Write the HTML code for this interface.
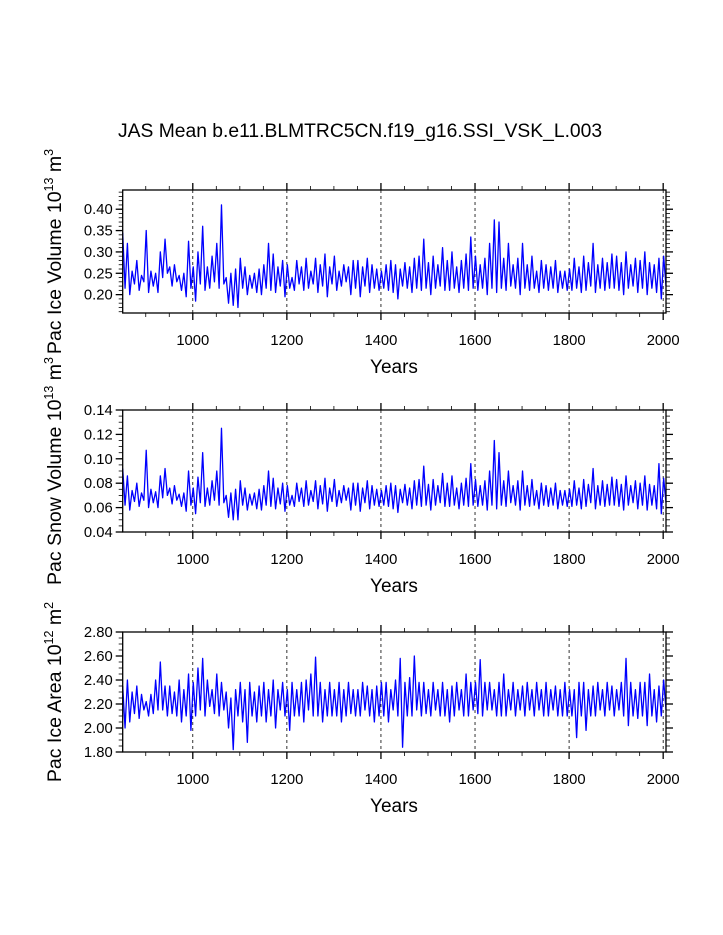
<!DOCTYPE html>
<html><head><meta charset="utf-8"><style>
html,body{margin:0;padding:0;background:#fff;}
svg{display:block;font-family:"Liberation Sans",Arial,sans-serif;}
</style></head><body>
<svg id="chart" width="723" height="935" viewBox="0 0 723 935" xmlns="http://www.w3.org/2000/svg">
<text x="118" y="137" font-size="19.3">JAS Mean b.e11.BLMTRC5CN.f19_g16.SSI_VSK_L.003</text>
</svg>
<script>
const startYear = 851;
const yearStep = 5;
const yearTicks = [1000, 1200, 1400, 1600, 1800, 2000];
const iceVolume = [345,215,320,200,255,225,280,210,245,230,350,205,255,220,250,205,300,240,330,250,265,220,270,230,245,210,250,195,325,215,265,185,300,225,360,210,265,215,290,230,320,215,410,225,240,180,250,175,260,170,285,215,265,200,245,215,250,205,260,200,270,215,320,210,295,205,265,220,280,195,270,215,240,210,280,225,265,210,285,215,255,225,285,205,270,220,295,195,265,225,290,210,255,220,270,230,265,200,280,215,280,195,265,220,285,205,270,215,260,210,255,215,270,210,280,205,270,190,260,220,275,215,265,205,285,215,290,210,330,215,275,200,290,215,270,220,310,210,280,210,300,215,265,205,280,215,295,210,335,215,290,210,270,215,285,200,320,215,375,205,370,215,285,210,320,220,270,215,285,200,320,215,270,210,290,215,255,205,280,215,270,210,265,215,280,205,255,215,255,210,260,210,285,215,265,205,290,210,275,220,320,205,270,215,285,210,275,215,295,215,290,210,275,200,300,215,270,220,285,205,280,215,300,200,275,215,270,205,285,190,290,220];
const snowVolume = [92,62,86,58,74,65,80,61,72,66,107,60,75,64,73,60,86,68,92,70,76,63,78,66,71,61,72,57,90,62,76,55,85,64,105,61,76,62,82,66,90,62,125,64,70,52,72,50,75,50,82,62,76,58,71,62,72,59,75,58,78,62,90,61,84,59,76,63,80,57,78,62,70,61,80,65,76,61,82,62,74,65,82,59,78,63,84,57,76,65,83,61,74,64,78,66,76,58,80,62,80,57,76,64,82,59,78,62,75,61,74,62,78,61,80,59,78,56,75,64,79,62,76,59,82,62,83,61,94,62,79,58,83,62,78,64,88,61,80,61,86,62,76,59,80,62,84,61,96,62,83,61,78,62,82,58,90,62,115,59,105,62,82,61,90,64,78,62,82,58,90,62,78,61,83,62,74,59,80,62,78,61,76,62,80,59,74,62,74,61,75,61,82,62,76,59,83,61,79,64,92,59,78,62,82,61,79,62,85,62,83,61,79,58,86,62,78,64,82,59,80,62,86,58,79,62,78,59,96,55,84,64];
const iceArea = [235,200,240,205,230,212,235,208,228,215,222,210,228,212,240,215,255,215,235,210,235,212,230,210,240,205,232,210,245,198,238,210,250,215,258,210,240,218,232,212,245,210,238,215,230,200,225,182,232,210,238,205,232,188,238,210,230,205,235,210,238,205,232,210,240,200,232,215,238,210,232,198,238,210,232,210,238,205,240,215,245,210,259,210,238,205,232,210,238,210,232,210,238,205,232,210,238,212,232,210,232,210,238,215,235,210,232,205,235,210,238,210,238,205,232,215,240,210,258,184,238,210,242,210,260,215,238,210,238,212,232,210,238,215,232,210,238,210,232,205,235,210,238,215,232,210,245,210,238,215,238,212,257,210,238,215,238,215,232,210,238,210,245,210,232,215,238,210,232,215,235,210,238,215,232,210,238,215,232,210,238,210,232,215,235,210,232,210,238,210,232,210,232,192,238,210,238,198,232,210,235,210,238,215,232,210,238,215,235,210,232,215,238,210,258,202,238,210,232,208,238,210,238,202,245,210,232,205,235,210,240,215];
const iceVolTicks = [0.20, 0.25, 0.30, 0.35, 0.40];
const snowTicks = [0.04, 0.06, 0.08, 0.10, 0.12, 0.14];
const areaTicks = [1.80, 2.00, 2.20, 2.40, 2.60, 2.80];

const NS = "http://www.w3.org/2000/svg";
const svg = document.getElementById('chart');
function mk(tag, attrs, parent) {
  const e = document.createElementNS(NS, tag);
  for (const k in attrs) e.setAttribute(k, attrs[k]);
  (parent || svg).appendChild(e);
  return e;
}
const X0 = 122.7, X1 = 666, YR0 = 851, YR1 = 2006;
const xs = y => X0 + (y - YR0) / (YR1 - YR0) * (X1 - X0);

function panel(cfg) {
  const g = mk('g', {});
  
  
  const ys = v => cfg.top + (cfg.ymax - v) / (cfg.ymax - cfg.ymin) * (cfg.bot - cfg.top);
  yearTicks.forEach(t => {
    const l = mk('line', {x1: xs(t), x2: xs(t), y1: cfg.top, y2: cfg.bot, stroke: '#000', 'stroke-width': 0.8, 'stroke-dasharray': '3,3'}, g);
    
    
  });
  let d = '';
  cfg.data.forEach((v, i) => {
    const yr = startYear + i * yearStep;
    d += (i ? 'L' : 'M') + xs(yr).toFixed(2) + ',' + ys(v * cfg.scale).toFixed(2);
  });
  const p = mk('path', {d: d, fill: 'none', stroke: '#0000ff', 'stroke-width': 1.3, 'stroke-linejoin': 'round'}, g);
  
  
  const r = mk('rect', {x: X0, y: cfg.top, width: X1 - X0, height: cfg.bot - cfg.top, fill: 'none', stroke: '#000', 'stroke-width': 1.3}, g);
  
  
  for (let t = 900; t <= 2000; t += 50) {
    const major = t % 200 === 0;
    const len = major ? 7 : 4;
    mk('line', {x1: xs(t), x2: xs(t), y1: cfg.top, y2: cfg.top - len, stroke: '#000', 'stroke-width': major ? 1.3 : 0.8}, g);
    mk('line', {x1: xs(t), x2: xs(t), y1: cfg.bot, y2: cfg.bot + len, stroke: '#000', 'stroke-width': major ? 1.3 : 0.8}, g);
  }
  yearTicks.forEach(t => {
    const tx = mk('text', {x: xs(t), y: cfg.bot + 32, 'font-size': 14.8, 'text-anchor': 'middle'}, g);
    tx.textContent = t;
    
    
  });
  for (let v = cfg.ymin; v <= cfg.ymax + 1e-9; v += cfg.minor) {
    const vv = Math.ceil(v / cfg.minor - 1e-6) * cfg.minor;
    if (vv > cfg.ymax) continue;
    mk('line', {x1: X0, x2: X0 - 4, y1: ys(vv), y2: ys(vv), stroke: '#000', 'stroke-width': 0.8}, g);
    mk('line', {x1: X1, x2: X1 + 4, y1: ys(vv), y2: ys(vv), stroke: '#000', 'stroke-width': 0.8}, g);
  }
  cfg.ticks.forEach(t => {
    mk('line', {x1: X0, x2: X0 - 7, y1: ys(t), y2: ys(t), stroke: '#000', 'stroke-width': 1.3}, g);
    mk('line', {x1: X1, x2: X1 + 7, y1: ys(t), y2: ys(t), stroke: '#000', 'stroke-width': 1.3}, g);
    const tx = mk('text', {x: X0 - 10, y: ys(t) + 5, 'font-size': 14.8, 'text-anchor': 'end'}, g);
    tx.textContent = t.toFixed(2);
    
    
  });
  const xt = mk('text', {x: 394, y: cfg.bot + 60, 'font-size': 19, 'text-anchor': 'middle'}, g);
  xt.textContent = 'Years';
  
  
  const cy = (cfg.top + cfg.bot) / 2;
  const yt = mk('text', {x: 0, y: 0, 'font-size': 19.5, 'text-anchor': 'middle', transform: 'translate(61,' + cy + ') rotate(-90)'}, g);
  
  
  yt.appendChild(document.createTextNode(cfg.label + ' 10'));
  const s1 = mk('tspan', {dy: -8, 'font-size': 12.5}, yt); s1.textContent = cfg.exp;
  const s2 = mk('tspan', {dy: 8}, yt); s2.textContent = ' m';
  const s3 = mk('tspan', {dy: -8, 'font-size': 12.5}, yt); s3.textContent = cfg.unitExp;
}
panel({name: 'ice-volume', top: 190, bot: 313, ymin: 0.157, ymax: 0.445, minor: 0.01, ticks: iceVolTicks, data: iceVolume, scale: 0.001, label: 'Pac Ice Volume', exp: '13', unitExp: '3'});
panel({name: 'snow-volume', top: 410, bot: 532, ymin: 0.04, ymax: 0.14, minor: 0.005, ticks: snowTicks, data: snowVolume, scale: 0.001, label: 'Pac Snow Volume', exp: '13', unitExp: '3'});
panel({name: 'ice-area', top: 632, bot: 752, ymin: 1.80, ymax: 2.80, minor: 0.05, ticks: areaTicks, data: iceArea, scale: 0.01, label: 'Pac Ice Area', exp: '12', unitExp: '2'});
</script>
</body></html>
